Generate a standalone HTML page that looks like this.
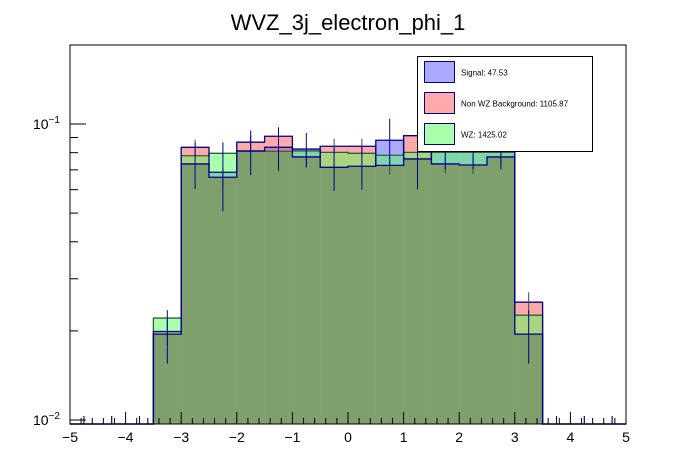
<!DOCTYPE html>
<html><head><meta charset="utf-8"><style>
html,body{margin:0;padding:0;background:#fff;}
svg{display:block;font-family:"Liberation Sans",Arial,sans-serif;}
</style></head><body>
<svg id="chart" width="696" height="472" viewBox="0 0 696 472">
<rect width="696" height="472" fill="#fff"/>
<text x="348" y="30" text-anchor="middle" font-size="22" fill="#000">WVZ_3j_electron_phi_1</text>
<g id="plot"></g>
<rect x="70" y="45" width="556" height="379" fill="none" stroke="#000" stroke-width="1"/>
<g id="axes"></g>
<g>
<rect x="417.5" y="56.5" width="175" height="95" fill="#fff" stroke="#000"/>
<g><rect x="424.5" y="61.5" width="30" height="21" fill="#aaaaff" stroke="#00008b"/><text x="461" y="75.5" font-size="8">Signal: 47.53</text></g>
<g><rect x="424.5" y="92.5" width="30" height="21" fill="#ffaaaa" stroke="#00008b"/><text x="461" y="106.5" font-size="8">Non WZ Background: 1105.87</text></g>
<g><rect x="424.5" y="123.5" width="30" height="21" fill="#aaffaa" stroke="#00008b"/><text x="461" y="137.5" font-size="8">WZ: 1425.02</text></g>
</g>
</svg>
<script>
const binEdgesLow = [-5,-4.5,-4,-3.5,-3,-2.5,-2,-1.5,-1,-0.5,0,0.5,1,1.5,2,2.5,3,3.5,4,4.5];
const signalVals = [0,0,0,0.0195,0.0733,0.0687,0.0811,0.0834,0.0823,0.0714,0.0720,0.0881,0.0762,0.0823,0.0823,0.0823,0.0195,0,0,0];
const nonWZVals  = [0,0,0,0.0199,0.0834,0.0661,0.0868,0.0909,0.0774,0.0841,0.0841,0.0725,0.0913,0.0733,0.0727,0.0774,0.0250,0,0,0];
const wzVals     = [0,0,0,0.0221,0.0781,0.0796,0.0809,0.0809,0.0811,0.0802,0.0796,0.0784,0.0802,0.0802,0.0802,0.0802,0.0226,0,0,0];
const signalErr  = [0,0,0,0.004,0.013,0.018,0.014,0.014,0.011,0.012,0.012,0.016,0.016,0.012,0.012,0.012,0.004,0,0,0];
const nonWZErr   = [0,0,0,0.002,0.005,0.005,0.005,0.005,0.005,0.005,0.005,0.005,0.005,0.005,0.005,0.005,0.002,0,0,0];
const xTicks = [-5,-4,-3,-2,-1,0,1,2,3,4,5];
const binWidth = 0.5;

const NS='http://www.w3.org/2000/svg';
const X0=70,X1=626,Ytop=45,Ybot=424;
const xs=v=>X0+(v+5)/10*(X1-X0);
const ys=v=>{ if(v<=0) return Ybot; const y=420-(Math.log10(v)+2)*296; return Math.min(Ybot,Math.max(Ytop,y)); };
function el(tag,attrs,parent){const e=document.createElementNS(NS,tag);for(const k in attrs)e.setAttribute(k,attrs[k]);parent.appendChild(e);return e;}
const plot=document.getElementById('plot');
const axes=document.getElementById('axes');

function drawHist(vals,fill,op,name){
  const g=el('g',{},plot);
  
  
  vals.forEach((v,i)=>{
    if(v<=0) return;
    const x0=xs(binEdgesLow[i]),x1=xs(binEdgesLow[i]+binWidth),y=ys(v);
    const r=el('rect',{x:x0,y:y,width:x1-x0,height:Ybot-y,fill:fill,'fill-opacity':op},g);
    
    
  });
  return g;
}
drawHist(signalVals,'#5555ff',0.5,'signal-hist');
drawHist(nonWZVals,'#ff5555',0.5,'non-wz-hist');
drawHist(wzVals,'#55ff55',0.5,'wz-hist');
// common overlap region
const common=el('g',{},plot);


signalVals.forEach((v,i)=>{
  const m=Math.min(v,nonWZVals[i],wzVals[i]); if(m<=0) return;
  const x0=xs(binEdgesLow[i]),x1=xs(binEdgesLow[i]+binWidth),y=ys(m);
  el('rect',{x:x0,y:y,width:x1-x0,height:Ybot-y,fill:'#7f9f6c'},common);
});
function outline(vals,color,name){
  let d='M'+xs(-5)+','+Ybot;
  vals.forEach((v,i)=>{const y=ys(v);d+=' L'+xs(binEdgesLow[i])+','+y+' L'+xs(binEdgesLow[i]+binWidth)+','+y;});
  d+=' L'+xs(5)+','+Ybot;
  const p=el('path',{d:d,fill:'none',stroke:color,'stroke-width':1.3},plot);
  
  
}
outline(wzVals,'#2f5f3f','wz-outline');
outline(nonWZVals,'#00008b','non-wz-outline');
outline(signalVals,'#00008b','signal-outline');
function errs(vals,err,color,name){
  vals.forEach((v,i)=>{
    const xc=xs(binEdgesLow[i]+binWidth/2);
    let y1,y2;
    if(v<=0){y1=Ybot-8;y2=Ybot;} else {y1=ys(v+err[i]);y2=ys(Math.max(v-err[i],0.0101));}
    const l=el('line',{x1:xc,x2:xc,y1:y1,y2:y2,stroke:color,'stroke-width':1},plot);
    
    
  });
}
errs(nonWZVals,nonWZErr,'#2f4f4f','non-wz-error-bar');
errs(signalVals,signalErr,'#00008b','signal-error-bar');

// x axis ticks
for(let t=-5;t<=5.0001;t+=0.2){
  const x=xs(t);const major=Math.abs(t-Math.round(t))<1e-6;
  el('line',{x1:x,x2:x,y1:Ybot,y2:Ybot-(major?12:6),stroke:'#000','stroke-width':1},axes);
}
xTicks.forEach(t=>{
  const tx=el('text',{x:xs(t),y:442,'text-anchor':'middle','font-size':14},axes);
  tx.textContent=(t<0?'\u2212'+(-t):String(t));
  
  
});
// y axis ticks
for(let dec=-2;dec<=-1;dec++){
  for(let m=1;m<=9;m++){
    const v=m*Math.pow(10,dec);const y=420-(Math.log10(v)+2)*296;
    if(y<Ytop||y>Ybot) continue;
    el('line',{x1:X0,x2:X0+(m===1?16:8),y1:y,y2:y,stroke:'#000','stroke-width':1},axes);
  }
}
[[-1,124],[-2,420]].forEach(([p,y])=>{
  const tx=el('text',{x:60,y:y+5,'text-anchor':'end','font-size':14},axes);
  tx.innerHTML='10<tspan dy="-6" font-size="10">\u2212'+(-p)+'</tspan>';
  
  
});
</script>
</body></html>
